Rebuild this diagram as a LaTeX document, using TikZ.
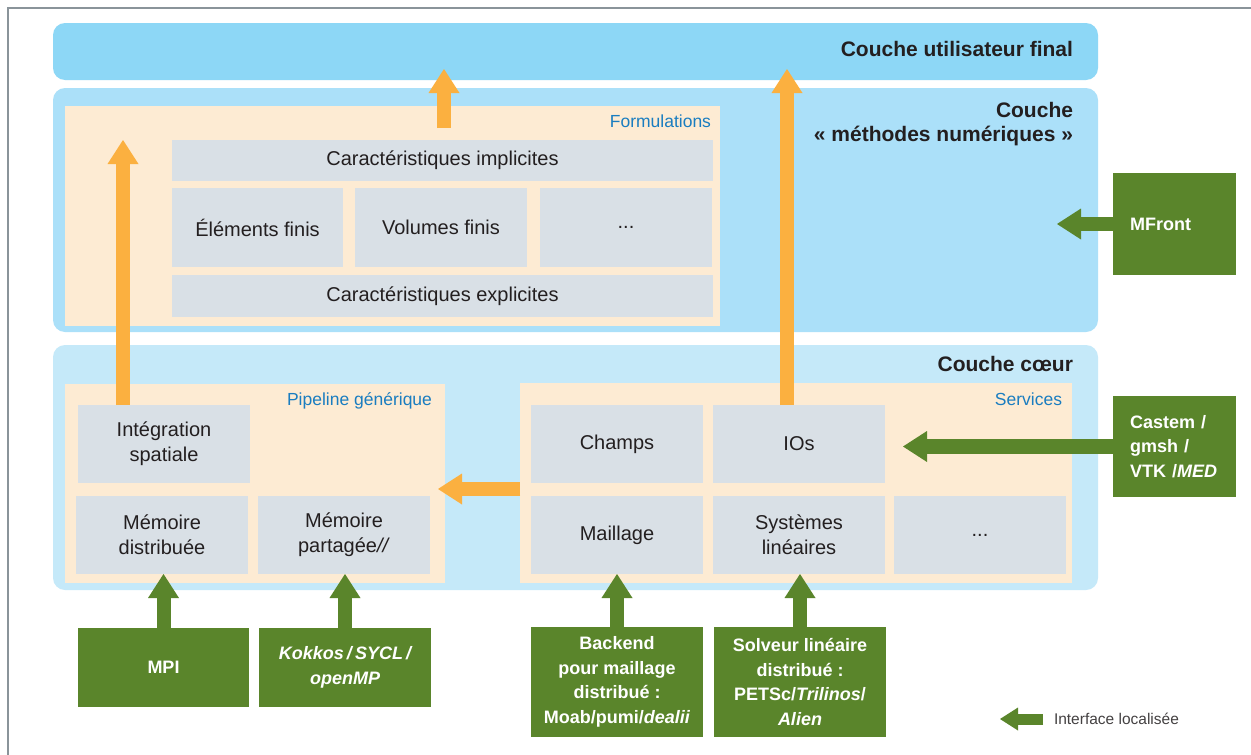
\documentclass[tikz,border=0pt]{standalone}
\usepackage{fontspec}
\setmainfont{Liberation Sans}
\usetikzlibrary{arrows.meta,calc}
\definecolor{layA}{HTML}{8DD7F6}
\definecolor{layB}{HTML}{ABE0F9}
\definecolor{layC}{HTML}{C5E9F9}
\definecolor{beige}{HTML}{FDEBD3}
\definecolor{boxg}{HTML}{D9E0E6}
\definecolor{orng}{HTML}{FBB040}
\definecolor{grn}{HTML}{5A852B}
\definecolor{blu}{HTML}{1A7DC0}
\definecolor{txt}{HTML}{231F20}
\definecolor{framec}{HTML}{8A949A}
\begin{document}
\begin{tikzpicture}[x=1pt,y=-1pt,
  every node/.style={inner sep=0pt, outer sep=0pt},
  layer/.style={anchor=north west, rounded corners=12pt},
  panel/.style={anchor=north west, fill=beige},
  gbox/.style={anchor=north west, fill=boxg, text=txt, align=center, font=\fontsize{20}{25}\selectfont},
  grbox/.style={anchor=north west, fill=grn, text=white, align=center, font=\bfseries\fontsize{18}{24.5}\selectfont},
  ttl/.style={text=txt, font=\bfseries\fontsize{21}{24}\selectfont},
  lbl/.style={text=blu, font=\fontsize{17.5}{20}\selectfont},
  oarr/.style={draw=orng, line width=14pt, -{Triangle[width=31pt,length=24pt,line width=0pt]}},
  garr/.style={draw=grn, line width=14pt, -{Triangle[width=31pt,length=24pt,line width=0pt]}},
]
\useasboundingbox (0,0) rectangle (1251,755);
\fill[white] (0,0) rectangle (1251,755);
\draw[framec, line width=2pt] (8,755) -- (8,8) -- (1251,8);

% layers
\node[layer, fill=layA, minimum width=1045pt, minimum height=57pt] (top) at (53,23) {};
\node[layer, fill=layB, minimum width=1045pt, minimum height=244pt] (mid) at (53,88) {};
\node[layer, fill=layC, minimum width=1045pt, minimum height=245pt] (core) at (53,345) {};

\node[ttl, anchor=base east] (t1) at (1073,56) {Couche utilisateur final};
\node[ttl, anchor=base east] (t2a) at (1073,117) {Couche};
\node[ttl, anchor=base east] (t2b) at (1073,141) {«~méthodes numériques~»};
\node[ttl, anchor=base east] (t3) at (1073,371) {Couche cœur};

% panels
\node[panel, minimum width=655pt, minimum height=220pt] (form) at (65,106) {};
\node[panel, minimum width=380pt, minimum height=199pt] (pipe) at (65,384) {};
\node[panel, minimum width=552pt, minimum height=200pt] (serv) at (520,383) {};

\node[lbl, anchor=base east] (lf) at (711,127) {Formulations};
\node[lbl, anchor=base east] (lp) at (432,405) {Pipeline générique};
\node[lbl, anchor=base east] (ls) at (1062,405) {Services};

% formulations boxes
\node[gbox, minimum width=541pt, minimum height=41pt] (ci) at (172,140) {Caractéristiques implicites};
\node[gbox, minimum width=171pt, minimum height=79pt] (ef) at (172,188) {Éléments finis};
\node[gbox, minimum width=172pt, minimum height=79pt] (vf) at (355,188) {Volumes finis};
\node[gbox, minimum width=172pt, minimum height=79pt] (fd) at (540,188) {...};
\node[gbox, minimum width=541pt, minimum height=42pt] (ce) at (172,275) {Caractéristiques explicites};

% pipeline boxes
\node[gbox, minimum width=172pt, minimum height=78pt] (integ) at (78,405) {Intégration\\spatiale};
\node[gbox, minimum width=172pt, minimum height=78pt] (memd) at (76,496) {Mémoire\\distribuée};
\node[gbox, minimum width=172pt, minimum height=78pt] (memp) at (258,496) {Mémoire\\partagée\textit{//}};

% services boxes
\node[gbox, minimum width=172pt, minimum height=78pt] (champs) at (531,405) {Champs};
\node[gbox, minimum width=172pt, minimum height=78pt] (ios) at (713,405) {IOs};
\node[gbox, minimum width=172pt, minimum height=78pt] (maill) at (531,496) {Maillage};
\node[gbox, minimum width=172pt, minimum height=78pt] (syst) at (713,496) {Systèmes\\linéaires};
\node[gbox, minimum width=172pt, minimum height=78pt] (sd) at (894,496) {...};

% green boxes
\node[grbox, minimum width=171pt, minimum height=79pt] (mpi) at (78,628) {MPI};
\node[grbox, minimum width=172pt, minimum height=79pt] (kok) at (259,628) {\itshape Kokkos\,/\,SYCL\,/\\\itshape openMP};
\node[grbox, minimum width=172pt, minimum height=110pt] (back) at (531,627) {Backend\\pour maillage\\distribué :\\Moab/pumi/\textit{dealii}};
\node[grbox, minimum width=172pt, minimum height=110pt] (solv) at (714,627) {Solveur linéaire\\distribué :\\PETSc/\textit{Trilinos}/\\\textit{Alien}};
\node[grbox, minimum width=123pt, minimum height=102pt, text width=89pt, align=left] (mfront) at (1113,173) {MFront};
\node[grbox, minimum width=123pt, minimum height=101pt, text width=89pt, align=left] (castem) at (1113,396) {Castem /\\gmsh /\\VTK /\textit{MED}};

% orange arrows
\coordinate (o1s) at ($(integ.north west)+(45,0)$);
\draw[oarr] (o1s) -- (o1s |- ci.north);
\coordinate (o2s) at (444,128);
\coordinate (o2e) at (444,69);
\draw[oarr] (o2s) -- (o2e);
\coordinate (o3s) at ($(ios.north)+(-12,0)$);
\draw[oarr] (o3s) -- (o3s |- o2e);
\coordinate (o4s) at ($(serv.west)+(0,6)$);
\draw[oarr] (o4s) -- ++(-82,0) coordinate (o4e);

% green arrows
\draw[garr] (mpi.north) -- (mpi.north |- memd.south);
\draw[garr] (kok.north) -- (kok.north |- memp.south);
\draw[garr] (back.north) -- (back.north |- maill.south);
\draw[garr] (solv.north) -- (solv.north |- syst.south);
\draw[garr] (mfront.west) -- ++(-56,0) coordinate (mfe);
\coordinate (ct) at ($(ios.east)+(18,0)$);
\draw[garr, line width=15pt] (castem.west) -- (castem.west -| ct);

% legend
\coordinate (lgs) at (1043,719);
\draw[draw=grn, line width=11pt, -{Triangle[width=23pt,length=18pt,line width=0pt]}] (lgs) -- ++(-43,0) coordinate (lge);
\node[anchor=west, text=txt!85, font=\fontsize{15.5}{17}\selectfont] (lgt) at (1054,719) {Interface localisée};
\end{tikzpicture}
\end{document}
